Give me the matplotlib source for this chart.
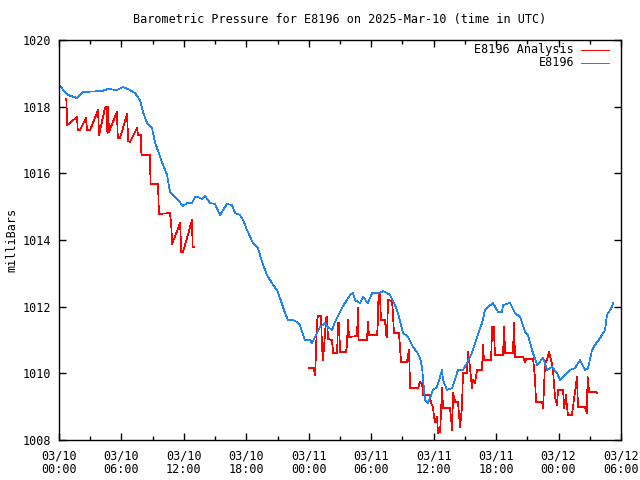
import numpy as np
import matplotlib
matplotlib.use('Agg')
import matplotlib.pyplot as plt
import matplotlib.dates as mdates

plt.rcParams['font.family'] = 'DejaVu Sans Mono'
plt.rcParams['font.size'] = 8.5

start = np.datetime64('2025-03-10T00:00')

# E8196 observed pressure (hours after 03/10 00:00 UTC, mbar)
obs_hours = [0.00, 0.58, 0.86, 1.73, 2.31, 4.13, 4.71, 5.57, 6.15, 6.82, 7.30, 7.78, 8.07, 8.46,
             8.94, 9.22, 9.89, 10.38, 10.66, 11.43, 11.92, 12.30, 12.78, 13.07, 13.36, 13.74,
             14.03, 14.51, 14.99, 15.47, 16.14, 16.62, 16.91, 17.39, 17.68, 18.07, 18.64, 19.12,
             19.51, 19.99, 20.56, 20.95, 21.24, 21.72, 22.00, 22.48, 22.87, 23.15, 23.64, 24.12,
             24.31, 24.60, 25.08, 25.56, 25.85, 26.23, 26.52, 27.19, 27.48, 27.96, 28.25, 28.44,
             28.92, 29.21, 29.69, 30.08, 30.84, 31.13, 31.52, 31.81, 32.29, 32.57, 33.06, 33.54,
             34.02, 34.40, 34.69, 34.88, 34.98, 35.17, 35.46, 35.94, 36.32, 36.61, 36.80, 36.90,
             37.28, 37.76, 38.05, 38.34, 38.82, 39.20, 39.68, 40.17, 40.65, 40.93, 41.22, 41.70,
             42.18, 42.57, 42.66, 43.34, 43.82, 44.30, 44.78, 45.07, 45.45, 45.93, 46.51, 46.89,
             47.37, 47.85, 48.14, 48.62, 49.10, 49.58, 50.06, 50.54, 50.83, 51.22, 51.50, 51.98,
             52.46, 52.65, 53.13, 53.23]
obs_mbar = [1018.65, 1018.44, 1018.35, 1018.26, 1018.44, 1018.47, 1018.53, 1018.50, 1018.59,
            1018.50, 1018.41, 1018.20, 1017.84, 1017.51, 1017.36, 1016.94, 1016.34, 1015.95,
            1015.44, 1015.20, 1015.02, 1015.11, 1015.11, 1015.29, 1015.29, 1015.23, 1015.32,
            1015.11, 1015.08, 1014.75, 1015.08, 1015.05, 1014.81, 1014.75, 1014.60, 1014.30,
            1013.91, 1013.76, 1013.34, 1012.95, 1012.65, 1012.50, 1012.26, 1011.81, 1011.60,
            1011.60, 1011.54, 1011.45, 1011.00, 1011.00, 1010.91, 1011.09, 1011.39, 1011.51,
            1011.39, 1011.30, 1011.54, 1011.96, 1012.11, 1012.35, 1012.41, 1012.20, 1012.11,
            1012.29, 1012.11, 1012.41, 1012.41, 1012.47, 1012.41, 1012.35, 1012.05, 1011.81,
            1011.21, 1011.09, 1010.79, 1010.64, 1010.46, 1010.19, 1009.80, 1009.20, 1009.11,
            1009.50, 1009.59, 1009.89, 1010.10, 1009.80, 1009.50, 1009.56, 1009.80, 1010.10,
            1010.10, 1010.31, 1010.61, 1011.09, 1011.51, 1011.90, 1011.99, 1012.11, 1011.84,
            1011.84, 1012.05, 1012.11, 1011.81, 1011.69, 1011.24, 1011.15, 1010.70, 1010.25,
            1010.46, 1010.10, 1010.19, 1010.01, 1009.80, 1009.95, 1010.10, 1010.16, 1010.40,
            1010.10, 1010.16, 1010.70, 1010.85, 1011.06, 1011.30, 1011.75, 1011.99, 1012.11]

# E8196 Analysis, first stretch
ana1_hours = [0.70, 0.80, 1.73, 1.80, 2.02, 2.59, 2.70, 2.98, 3.75, 3.85, 4.42, 4.55, 4.65, 4.72,
              4.80, 5.57, 5.65, 5.86, 6.53, 6.65, 6.82, 7.50, 7.59, 7.88, 7.92, 8.74, 8.80, 9.51,
              9.60, 10.67, 10.80, 10.86, 11.63, 11.75, 11.92, 12.78, 12.83, 12.95]
ana1_mbar = [1018.23, 1017.45, 1017.69, 1017.30, 1017.30, 1017.66, 1017.30, 1017.30, 1017.90,
             1017.15, 1017.96, 1017.99, 1017.21, 1018.00, 1017.24, 1017.84, 1017.06, 1017.06,
             1017.78, 1016.97, 1016.94, 1017.36, 1017.15, 1017.15, 1016.55, 1016.55, 1015.68,
             1015.68, 1014.78, 1014.81, 1014.36, 1013.88, 1014.51, 1013.64, 1013.64, 1014.60,
             1013.79, 1013.79]

# E8196 Analysis, second stretch
ana2_hours = [24.02, 24.41, 24.50, 24.60, 24.69, 24.79, 24.89, 25.18, 25.27, 25.37, 25.46, 25.66,
              25.75, 25.85, 26.23, 26.33, 26.71, 26.81, 26.91, 27.00, 27.58, 27.67, 27.77, 27.87,
              28.63, 28.73, 28.78, 29.60, 29.69, 29.79, 30.56, 30.65, 30.70, 30.84, 30.94, 31.33,
              31.42, 31.52, 31.61, 32.00, 32.09, 32.19, 32.67, 32.86, 33.44, 33.63, 33.73, 34.50,
              34.69, 34.88, 34.98, 35.65, 35.74, 35.94, 36.03, 36.13, 36.32, 36.42, 36.61, 36.71,
              36.80, 36.90, 37.57, 37.67, 37.76, 37.86, 37.96, 38.05, 38.34, 38.53, 38.72, 38.82,
              39.20, 39.30, 39.49, 39.68, 39.78, 39.97, 40.17, 40.65, 40.74, 40.84, 41.51, 41.61,
              41.70, 41.80, 41.89, 42.66, 42.76, 42.86, 43.62, 43.72, 43.82, 44.59, 44.78, 44.87,
              45.55, 45.74, 45.84, 46.41, 46.51, 46.60, 46.70, 46.89, 47.08, 47.28, 47.47, 47.56,
              47.66, 47.85, 47.95, 48.43, 48.53, 48.72, 48.81, 48.91, 49.29, 49.77, 49.87, 50.54,
              50.74, 50.78, 50.83, 50.93, 51.60, 51.70]
ana2_mbar = [1010.16, 1010.16, 1010.10, 1009.95, 1010.55, 1011.54, 1011.72, 1011.72, 1010.79,
             1010.40, 1010.79, 1011.66, 1011.69, 1011.03, 1011.00, 1010.61, 1010.61, 1011.51,
             1011.51, 1010.64, 1010.64, 1010.85, 1011.60, 1011.09, 1011.12, 1011.96, 1011.00,
             1011.00, 1011.54, 1011.15, 1011.15, 1011.63, 1012.41, 1012.41, 1011.60, 1011.60,
             1011.15, 1011.09, 1012.20, 1012.17, 1011.81, 1011.21, 1011.21, 1010.34, 1010.34,
             1010.70, 1009.56, 1009.56, 1009.74, 1009.71, 1009.35, 1009.35, 1009.11, 1008.99,
             1008.69, 1008.54, 1008.69, 1008.21, 1008.24, 1008.90, 1009.56, 1008.96, 1008.96,
             1008.66, 1008.30, 1009.41, 1009.29, 1009.14, 1009.14, 1008.39, 1008.96, 1010.01,
             1010.01, 1010.64, 1010.19, 1009.56, 1009.80, 1009.71, 1010.10, 1010.10, 1010.85,
             1010.40, 1010.40, 1011.39, 1011.00, 1011.39, 1010.55, 1010.55, 1011.39, 1010.61,
             1010.61, 1011.51, 1010.49, 1010.49, 1010.34, 1010.43, 1010.43, 1009.89, 1009.14,
             1009.14, 1008.96, 1009.56, 1010.31, 1010.40, 1010.64, 1010.40, 1010.10, 1009.65,
             1009.29, 1009.05, 1009.50, 1009.50, 1008.96, 1009.35, 1008.96, 1008.75, 1008.75,
             1009.89, 1008.99, 1008.99, 1008.81, 1009.89, 1009.80, 1009.44, 1009.44, 1009.41]


def to_time(hours):
    return start + (np.array(hours) * 60).round().astype('timedelta64[m]')


red = '#ff0000'
blue = '#1c86ee'
lw = 0.5

fig = plt.figure(figsize=(6.4, 4.8), dpi=100)
ax = fig.add_axes([59 / 640, 40 / 480, 562 / 640, 400 / 480])

ax.plot(to_time(ana1_hours), ana1_mbar, color=red, lw=lw, antialiased=False)
ax.plot(to_time(ana2_hours), ana2_mbar, color=red, lw=lw, antialiased=False)
ax.plot(to_time(obs_hours), obs_mbar, color=blue, lw=lw, antialiased=False)

ax.set_xlim(start, start + np.timedelta64(54, 'h'))
ax.set_ylim(1008, 1020)
ax.set_yticks(np.arange(1008, 1021, 2))

ax.xaxis.set_major_locator(mdates.HourLocator(byhour=[0, 6, 12, 18]))
ax.xaxis.set_minor_locator(mdates.HourLocator(byhour=[3, 9, 15, 21]))
ax.xaxis.set_major_formatter(mdates.DateFormatter('%m/%d\n%H:%M'))
for lbl in ax.get_xticklabels():
    lbl.set_linespacing(1.0)

ax.tick_params(which='both', direction='in', top=True, right=True, color='black')
ax.tick_params(which='major', length=5, width=1)
ax.tick_params(which='minor', length=3, width=1)
ax.tick_params(axis='x', pad=7)
ax.tick_params(axis='y', pad=6)
for sp in ax.spines.values():
    sp.set_linewidth(1.0)

ax.text(0.5, 1.05, 'Barometric Pressure for E8196 on 2025-Mar-10 (time in UTC)',
        transform=ax.transAxes, ha='center', va='center')
fig.text(12 / 640, 0.5, 'milliBars', rotation=90, ha='center', va='center')

# legend drawn gnuplot style: right-aligned text, sample line to the right
for i, (name, col) in enumerate([('E8196 Analysis', red), ('E8196', blue)]):
    yy = 0.975 - i * 0.0325
    ax.text(0.9164, yy, name, transform=ax.transAxes, ha='right', va='center')
    ax.plot([0.9288, 0.9786], [yy, yy], transform=ax.transAxes, color=col, lw=lw,
            antialiased=False)

fig.savefig('out.png', dpi=100)
